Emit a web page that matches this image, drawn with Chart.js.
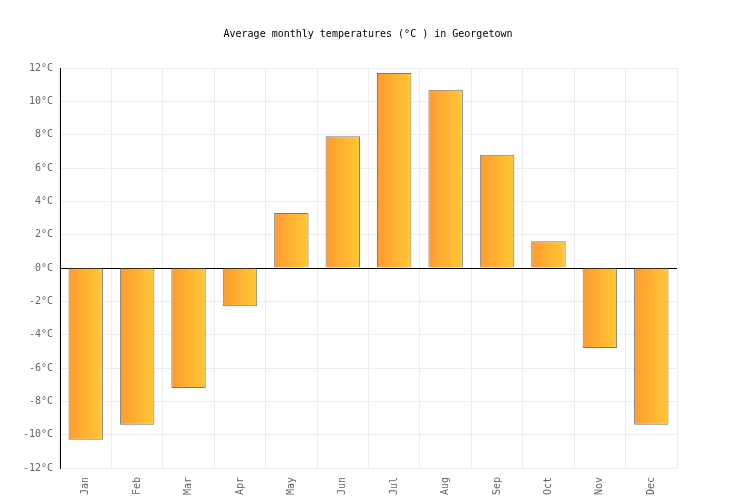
<!DOCTYPE html>
<html>
<head>
<meta charset="utf-8">
<script src="https://cdn.jsdelivr.net/npm/chart.js@4"></script>
<style>
  html, body { margin: 0; padding: 0; background: #fff; }
  #wrap { width: 736px; height: 500px; }
</style>
</head>
<body>
<div id="wrap"><canvas id="chart"></canvas></div>
<script>
// Monthly averages
const months = ["Jan", "Feb", "Mar", "Apr", "May", "Jun", "Jul", "Aug", "Sep", "Oct", "Nov", "Dec"]
const temps = [-10.3, -9.4, -7.2, -2.3, 3.3, 7.9, 11.7, 10.7, 6.8, 1.6, -4.8, -9.4]
const titleText = "Average monthly temperatures (°C ) in Georgetown"

const font = { family: "'DejaVu Sans Mono', monospace", size: 10 }
const barPct = 0.67

// Per-bar left-to-right gradient; scriptable so each bar resolves its own fill.
function barFill(c) {
  const xs = c.chart.scales.x
  if (!xs || !xs.width) return "#ffb030"
  const mid = xs.getPixelForValue(c.dataIndex)
  const half = (xs.width / months.length) * barPct / 2
  const g = c.chart.ctx.createLinearGradient(mid - half, 0, mid + half, 0)
  g.addColorStop(0, "#ff9a30")
  g.addColorStop(1, "#ffc935")
  return g
}

new Chart(document.getElementById("chart"), {
  type: "bar",
  data: {
    labels: months,
    datasets: [{
      data: temps,
      backgroundColor: barFill,
      borderColor: "#7a7a7a",
      borderWidth: 1,
      barPercentage: barPct,
      categoryPercentage: 1
    }]
  },
  options: {
    responsive: true,
    maintainAspectRatio: false,
    animation: false,
    scales: {
      x: {
        grid: { color: "#eeeeee", drawTicks: false, offset: true },
        border: { display: false },
        ticks: { color: "#666", font, padding: 9, minRotation: 90, maxRotation: 90 },
        afterFit: s => { s.height = 32 }
      },
      y: {
        min: -12,
        max: 12,
        grid: {
          drawTicks: false,
          color: c => (c.tick && c.tick.value === 0 ? "#000000" : "#eeeeee")
        },
        border: { color: "#000000" },
        ticks: { color: "#666", font, padding: 7, stepSize: 2, callback: v => v + "°C" },
        afterFit: s => { s.width = 60 }
      },
      // empty right-hand axis, only reserves the margin so the title stays centred on the page
      spacer: {
        type: "linear",
        position: "right",
        grid: { display: false },
        border: { display: false },
        ticks: { display: false },
        afterFit: s => { s.width = 59 }
      }
    },
    plugins: {
      legend: { display: false },
      tooltip: { enabled: false },
      title: {
        display: true,
        text: titleText,
        color: "#000",
        font: { family: font.family, size: 10, weight: "normal" },
        padding: { top: 28, bottom: 28 }
      }
    }
  }
})
</script>
</body>
</html>
